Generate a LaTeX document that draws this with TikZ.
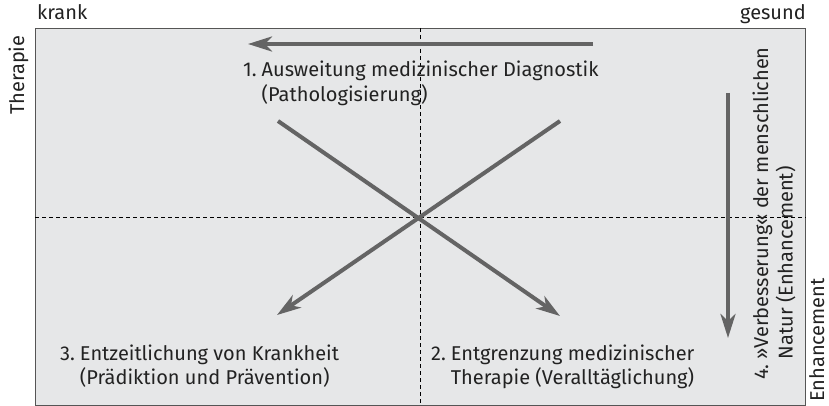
\documentclass[tikz,border=0pt]{standalone}
\usepackage{fontspec}
\setmainfont{Fira Sans}
\usetikzlibrary{arrows.meta}
\definecolor{bg}{HTML}{E6E7E8}
\definecolor{arr}{HTML}{646464}
\definecolor{framec}{HTML}{555555}
\definecolor{txt}{HTML}{222222}
\begin{document}
\begin{tikzpicture}[x=1pt,y=-1pt,
  lbl/.style={font=\fontsize{20}{24.5}\selectfont, text=txt, inner sep=0pt},
  bigarrow/.style={draw=arr, line width=4pt, -{Stealth[length=24pt,width=15pt,inset=7pt]}},
  guide/.style={draw=black, line width=0.7pt, dash pattern=on 4pt off 3pt}]
\useasboundingbox (0,0) rectangle (829,406);
\node[draw=framec, fill=bg, line width=1.2pt, minimum width=770pt, minimum height=377pt,
      anchor=north west, inner sep=0pt] (frame) at (35,28) {};
\draw[guide] (frame.north) -- (frame.south);
\draw[guide] (frame.west) -- (frame.east);
% arrows
\coordinate (h1) at (593,44);
\coordinate (h2) at (248,44);
\draw[bigarrow] (h1) -- (h2);
\coordinate (d1s) at (278,121);
\coordinate (d1e) at (560,316);
\coordinate (d2s) at (560,121);
\coordinate (d2e) at (277,315);
\draw[bigarrow] (d1s) -- (d1e);
\draw[bigarrow] (d2s) -- (d2e);
\coordinate (v1) at (728,93);
\coordinate (v2) at (728,338);
\draw[bigarrow] (v1) -- (v2);
% texts
\node[lbl, anchor=base west] (t1) at (243,77)
  {\begin{tabular}[t]{@{}l@{\hspace{5pt}}l@{}}1. & Ausweitung medizinischer Diagnostik\\ & (Pathologisierung)\end{tabular}};
\node[lbl, anchor=base west] (t3) at (60,360)
  {\begin{tabular}[t]{@{}l@{\hspace{5pt}}l@{}}3. & Entzeitlichung von Krankheit\\ & (Prädiktion und Prävention)\end{tabular}};
\node[lbl, anchor=base west] (t2) at (431,360)
  {\begin{tabular}[t]{@{}l@{\hspace{5pt}}l@{}}2. & Entgrenzung medizinischer\\ & Therapie (Veralltäglichung)\end{tabular}};
\node[lbl, anchor=base west, rotate=90] (t4) at (768,380)
  {\begin{tabular}[t]{@{}l@{\hspace{5pt}}l@{}}4. & »Verbesserung« der menschlichen\\ & Natur (Enhancement)\end{tabular}};
\node[lbl, anchor=base west] (krank) at (37,20) {krank};
\node[lbl, anchor=base east] (gesund) at (806,20) {gesund};
\node[lbl, anchor=base west, rotate=90] (ther) at (24,115) {Therapie};
\node[lbl, anchor=base west, rotate=90] (enh) at (824,402) {Enhancement};
\end{tikzpicture}
\end{document}
